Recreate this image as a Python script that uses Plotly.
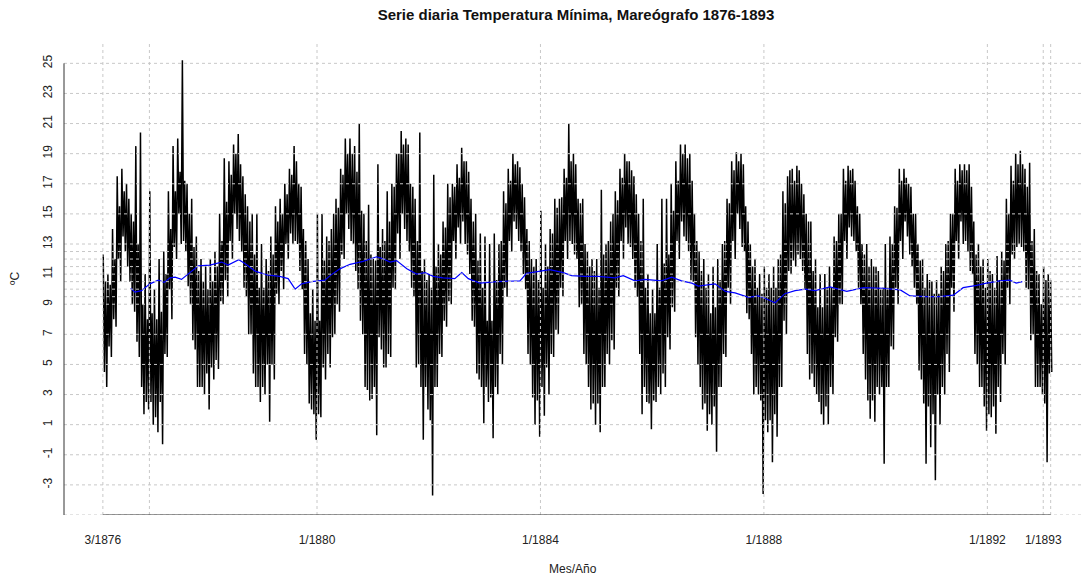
import plotly.graph_objects as go

# ---------------- data ----------------
START_YEAR = 1876
START_MONTH = 3  # series starts March 1876, ends February 1893

# monthly upper extreme (spikes) of the daily minimum temperature (ºC), Mar 1876 .. Feb 1893
tmin_high = [
    12.3, 11.0, 14.0, 17.5, 18.0, 17.0, 15.0, 19.5, 20.4, 11.0,              # 1876
    16.5, 10.0, 12.0, 12.5, 16.5, 19.5, 20.0, 25.2, 17.0, 16.0, 13.5, 12.0,  # 1877
    11.5, 12.0, 12.5, 15.0, 18.7, 18.5, 19.6, 20.3, 17.5, 15.5, 15.0, 15.0,  # 1878
    13.0, 12.0, 13.5, 15.5, 16.0, 17.0, 18.0, 19.5, 17.0, 14.0, 12.0, 10.0,  # 1879
    15.0, 15.0, 13.5, 14.0, 16.0, 18.0, 20.0, 20.0, 19.5, 21.0, 15.0, 15.6,  # 1880
    12.0, 18.3, 14.0, 16.5, 17.0, 19.0, 20.5, 20.0, 17.0, 16.0, 20.4, 12.0,  # 1881
    11.0, 17.6, 13.0, 14.5, 17.0, 17.0, 18.3, 19.4, 18.5, 16.0, 15.0, 13.7,  # 1882
    13.5, 13.0, 13.7, 13.0, 16.5, 18.0, 19.0, 18.5, 17.0, 14.0, 12.0, 12.0,  # 1883
    15.2, 13.0, 14.0, 16.0, 16.0, 18.0, 21.0, 19.0, 16.0, 16.0, 12.5, 12.0,  # 1884
    12.0, 16.6, 13.0, 14.5, 16.5, 18.0, 19.0, 18.5, 17.5, 15.0, 16.0, 11.0,  # 1885
    10.0, 13.0, 16.0, 16.0, 17.0, 18.5, 19.6, 19.6, 19.0, 15.0, 12.5, 12.0,  # 1886
    11.0, 11.5, 12.0, 13.0, 16.0, 18.5, 19.1, 19.0, 15.5, 13.0, 12.0, 11.0,  # 1887
    11.5, 11.0, 11.5, 12.0, 16.5, 17.5, 18.0, 18.2, 17.0, 15.0, 14.5, 12.0,  # 1888
    11.0, 11.0, 11.5, 13.5, 15.0, 18.0, 18.2, 18.0, 15.5, 13.0, 13.0, 12.0,  # 1889
    11.5, 10.0, 13.0, 13.5, 15.5, 18.0, 18.0, 17.0, 15.0, 13.0, 12.0, 11.0,  # 1890
    10.5, 10.6, 11.5, 13.0, 15.0, 18.0, 18.3, 18.3, 18.3, 14.5, 13.0, 12.0,  # 1891
    12.0, 11.0, 12.2, 12.5, 16.0, 18.2, 19.0, 19.2, 18.0, 18.4, 14.0, 11.0,  # 1892
    11.5, 11.0,                                                              # 1893
]

# monthly lower extreme (spikes) of the daily minimum temperature (ºC)
tmin_low = [
    3.5, 5.5, 7.5, 10.5, 12.5, 10.5, 8.5, 5.5, 1.7, 2.0,                     # 1876
    1.0, 0.5, -0.3, 5.5, 8.0, 12.0, 13.0, 12.5, 9.0, 6.0, 3.5, 3.0,          # 1877
    2.0, 4.0, 4.7, 9.0, 9.5, 12.0, 14.0, 12.5, 9.5, 7.0, 3.5, 2.5,           # 1878
    3.0, 1.2, 4.0, 9.0, 10.0, 12.0, 13.0, 13.0, 10.0, 5.0, 2.0, 0.0,         # 1879
    1.5, 4.0, 4.8, 7.0, 8.5, 12.0, 14.0, 13.0, 10.0, 7.0, 3.3, 2.7,          # 1880
    0.3, 6.0, 4.8, 5.5, 10.0, 12.0, 14.0, 12.5, 9.5, 5.0, 0.0, 2.0,          # 1881
    -3.7, 3.5, 5.5, 7.5, 9.0, 12.0, 13.0, 13.0, 11.0, 7.5, 4.0, 1.1,         # 1882
    2.5, 0.1, 3.0, 5.0, 9.5, 12.5, 14.0, 12.5, 10.0, 5.0, 1.0, 0.2,          # 1883
    1.6, 3.0, 5.5, 7.0, 9.5, 12.0, 13.0, 12.0, 9.0, 5.0, 2.0, 1.0,           # 1884
    0.5, 3.5, 5.0, 6.0, 9.5, 12.0, 13.0, 12.0, 9.5, 1.7, 2.5, 0.7,           # 1885
    2.5, 3.0, 3.5, 6.0, 8.5, 12.0, 13.5, 12.5, 10.5, 5.0, 2.0, 0.6,          # 1886
    1.0, -0.8, 3.5, 5.5, 9.0, 12.0, 14.0, 12.5, 8.0, 3.0, 3.0, -3.6,         # 1887
    0.5, -1.5, 0.2, 3.5, 7.0, 11.0, 11.5, 12.0, 10.0, 4.0, 3.5, 2.5,         # 1888
    1.0, 1.0, 3.0, 6.5, 9.0, 12.0, 13.5, 12.5, 9.0, 4.0, 1.4, 1.2,           # 1889
    3.0, -1.6, 3.5, 6.0, 9.0, 12.0, 13.5, 11.5, 9.0, 4.0, -1.6, -0.5,        # 1890
    -2.7, 1.0, 3.0, 4.5, 8.5, 12.0, 13.0, 12.5, 11.0, 5.0, 3.5, 0.6,         # 1891
    1.5, 0.4, 2.5, 5.0, 9.0, 12.0, 13.0, 12.5, 10.0, 7.0, 3.5, 3.0,          # 1892
    -1.5, 4.5,                                                               # 1893
]

# monthly top of the dense core of the band (ºC)
core_high = [
    10.5, 10.3, 12.0, 15.5, 16.5, 16.0, 14.5, 13.0, 9.0, 8.0,                # 1876
    8.4, 8.0, 8.5, 11.0, 14.0, 16.5, 17.8, 17.2, 15.0, 12.8, 11.2, 10.5,     # 1877
    10.0, 10.5, 11.5, 13.2, 15.8, 17.6, 19.0, 18.3, 16.3, 14.5, 12.3, 10.1,  # 1878
    10.1, 11.2, 12.3, 14.5, 15.0, 16.3, 17.6, 18.5, 16.8, 13.2, 8.4, 7.9,    # 1879
    7.9, 11.9, 13.2, 15.0, 15.4, 17.6, 19.0, 19.0, 17.8, 15.2, 13.2, 12.3,   # 1880
    11.9, 12.8, 13.2, 14.5, 16.8, 19.0, 19.6, 19.6, 16.8, 13.2, 11.2, 10.6,  # 1881
    10.1, 11.5, 12.3, 14.1, 16.1, 16.8, 17.4, 18.5, 17.8, 14.5, 11.9, 10.1,  # 1882
    7.9, 7.9, 10.6, 13.2, 15.7, 17.2, 18.3, 18.1, 16.1, 13.2, 11.5, 10.6,    # 1883
    10.1, 11.5, 13.7, 15.4, 16.1, 17.4, 18.5, 18.3, 15.7, 13.0, 11.5, 11.2,  # 1884
    10.1, 12.3, 13.2, 15.0, 15.9, 17.4, 18.5, 17.9, 16.3, 13.2, 10.1, 8.4,   # 1885
    8.4, 10.1, 11.7, 12.3, 15.2, 17.2, 19.0, 18.7, 17.2, 13.2, 11.2, 10.1,   # 1886
    8.4, 8.8, 10.6, 13.2, 15.7, 17.9, 18.5, 18.3, 14.5, 11.5, 10.1, 9.7,     # 1887
    10.1, 10.1, 10.1, 12.3, 15.7, 17.9, 17.2, 17.9, 16.3, 14.5, 11.2, 8.8,   # 1888
    8.8, 10.1, 10.1, 13.2, 15.0, 17.2, 17.9, 17.2, 15.0, 12.3, 11.5, 11.5,   # 1889
    11.2, 10.1, 10.1, 13.0, 15.4, 17.2, 17.4, 16.8, 15.0, 11.9, 10.1, 10.6,  # 1890
    9.7, 9.7, 11.2, 13.2, 15.0, 17.2, 17.9, 17.9, 16.8, 12.3, 11.5, 10.1,    # 1891
    11.2, 10.1, 10.6, 11.9, 15.0, 17.2, 18.3, 18.3, 16.8, 13.2, 11.2, 9.0,   # 1892
    10.6, 10.6,                                                              # 1893
]

# monthly bottom of the dense core of the band (ºC)
core_low = [
    4.5, 6.2, 8.0, 12.0, 13.5, 11.5, 9.0, 6.5, 3.5, 2.5,                     # 1876
    2.5, 1.5, 2.5, 5.7, 10.0, 12.8, 15.0, 13.2, 10.2, 6.6, 3.5, 3.5,         # 1877
    4.4, 4.8, 5.3, 9.2, 10.6, 13.2, 15.0, 13.2, 10.1, 7.0, 4.4, 3.5,         # 1878
    3.5, 5.0, 5.0, 9.7, 11.2, 13.0, 13.7, 13.2, 11.2, 5.7, 2.4, 1.7,         # 1879
    1.7, 4.8, 5.7, 6.8, 9.0, 12.3, 15.0, 13.2, 11.2, 7.9, 3.5, 2.6,          # 1880
    3.5, 6.8, 4.8, 5.7, 10.1, 13.7, 15.0, 13.2, 10.1, 4.8, 3.5, 3.5,         # 1881
    1.3, 3.5, 5.7, 7.9, 9.2, 13.2, 14.1, 14.5, 12.3, 7.9, 4.4, 3.5,          # 1882
    3.5, 2.8, 3.5, 5.7, 10.1, 13.2, 14.5, 13.2, 11.0, 5.7, 2.8, 2.6,         # 1883
    3.5, 4.8, 5.7, 7.3, 10.1, 13.2, 13.2, 12.3, 8.8, 5.7, 3.5, 2.4,          # 1884
    2.4, 3.5, 5.7, 6.6, 10.1, 13.2, 14.1, 12.8, 10.1, 5.7, 3.5, 2.4,         # 1885
    2.6, 3.5, 4.4, 6.8, 8.8, 13.2, 14.5, 13.2, 10.6, 6.8, 3.5, 2.4,          # 1886
    1.7, 2.2, 3.5, 5.7, 10.1, 13.2, 15.0, 12.8, 8.4, 5.7, 3.5, 2.6,          # 1887
    1.3, 1.3, 1.7, 3.5, 7.9, 11.2, 11.9, 12.3, 11.2, 5.7, 4.4, 3.0,          # 1888
    1.7, 2.2, 3.5, 6.8, 9.0, 13.2, 14.1, 13.2, 10.1, 5.7, 2.6, 2.6,          # 1889
    3.5, 3.5, 3.5, 6.2, 10.1, 13.2, 14.5, 12.3, 10.1, 4.6, 2.4, 2.2,         # 1890
    1.7, 3.0, 3.5, 5.7, 10.1, 13.2, 14.5, 13.2, 11.2, 5.7, 3.5, 2.2,         # 1891
    1.7, 2.2, 3.5, 5.7, 10.1, 12.3, 12.8, 12.8, 10.1, 6.6, 3.5, 3.5,         # 1892
    2.4, 4.4,                                                                # 1893
]

# 365-day moving average: time in months since Jan 1876, value in ºC
ma_month = [
    7.97, 8.9, 10.3, 12.1, 13.9, 15.2, 16.4, 17.5, 18.9, 20.7, 22.5, 25.0,
    27.5, 28.9, 31.2, 32.5, 34.7, 37.2, 40.0, 41.8, 43.3, 44.7, 46.8, 49.7,
    50.8, 52.9, 55.1, 57.9, 60.8, 61.9, 63.7, 65.1, 67.3, 69.4, 71.2, 73.0,
    75.1, 77.6, 79.1, 80.5, 83.0, 86.6, 89.5, 91.6, 93.0, 95.9, 98.0, 100.9,
    102.7, 105.6, 108.4, 112.0, 113.8, 116.3, 118.5, 122.0, 124.2, 126.3,
    128.5, 129.9, 133.5, 135.7, 137.8, 140.7, 142.8, 144.2, 146.4, 148.5,
    150.7, 152.9, 155.0, 158.2, 161.8, 165.4, 169.7, 173.3, 175.4, 179.0,
    181.8, 184.7, 186.8, 189.7, 191.8, 194.7, 196.8, 198.2, 199.5,
]
ma_value = [
    10.06, 9.8, 9.9, 10.35, 10.6, 10.45, 10.75, 10.8, 10.65, 11.1, 11.55, 11.6,
    11.8, 11.6, 11.95, 11.7, 11.2, 10.95, 10.85, 10.7, 10.0, 10.35, 10.5, 10.6,
    10.9, 11.35, 11.65, 11.85, 12.15, 12.05, 11.8, 11.9, 11.35, 11.0, 11.1, 10.85,
    10.75, 10.7, 11.1, 10.7, 10.4, 10.5, 10.5, 10.55, 11.05, 11.2, 11.3, 11.1,
    10.9, 10.85, 10.85, 10.75, 10.9, 10.55, 10.65, 10.55, 10.8, 10.55,
    10.4, 10.2, 10.35, 9.85, 9.75, 9.45, 9.55, 9.4, 9.1, 9.7,
    9.9, 10.0, 9.9, 10.15, 9.85, 10.1, 10.05, 9.95, 9.55, 9.5,
    9.5, 9.6, 10.1, 10.25, 10.4, 10.55, 10.6, 10.4, 10.5,
]

# axis ticks
x_tick_dates = [(1876, 3), (1877, 1), (1880, 1), (1884, 1), (1888, 1), (1892, 1), (1893, 1), (1893, 2.6)]
x_tick_text = ["3/1876", "", "1/1880", "1/1884", "1/1888", "1/1892", "1/1893", ""]
y_major = [-5, -3, -1, 1, 3, 5, 7, 9, 11, 13, 15, 17, 19, 21, 23, 25]
y_minor = [9.5, 10, 10.5, 11.5, 12, 12.5]


def dec_year(y, m):
    return y + (m - 1) / 12.0


# ---------------- build traces ----------------
xs, ys = [], []
for i, (hi, clo, chi, lo) in enumerate(zip(tmin_high, core_low, core_high, tmin_low)):
    m = START_MONTH - 1 + i
    for frac, val in zip((0.08, 0.33, 0.58, 0.83), (hi, clo, chi, lo)):
        xs.append(START_YEAR + (m + frac) / 12.0)
        ys.append(val)

ma_x = [START_YEAR + k / 12.0 for k in ma_month]

fig = go.Figure()
fig.add_trace(go.Scatter(x=xs, y=ys, mode="lines",
                         line=dict(color="black", width=1.5), hoverinfo="skip"))
fig.add_trace(go.Scatter(x=ma_x, y=ma_value, mode="lines",
                         line=dict(color="#0000ff", width=1.2), hoverinfo="skip"))

x_tickvals = [dec_year(y, m) for y, m in x_tick_dates]
y_tickvals = sorted(set(y_major + y_minor))
y_ticktext = [("" if (v not in y_major or v == -5) else str(v)) for v in y_tickvals]

GRID = "#c8c8c8"
shapes = []
for v in x_tickvals:
    shapes.append(dict(type="line", xref="x", yref="paper", x0=v, x1=v, y0=0, y1=1,
                       line=dict(color=GRID, width=1, dash="3px,3px"), layer="above"))
for v in y_tickvals:
    shapes.append(dict(type="line", xref="paper", yref="y", x0=0, x1=1, y0=v, y1=v,
                       line=dict(color=GRID, width=1, dash="3px,3px"), layer="above"))
# axis lines (R style: only over the tick range)
shapes.append(dict(type="line", xref="paper", yref="y", x0=0, x1=0, y0=y_major[0], y1=y_major[-1],
                   line=dict(color="#333333", width=1), layer="above"))
shapes.append(dict(type="line", xref="x", yref="y", x0=x_tickvals[0], x1=x_tickvals[-1],
                   y0=y_major[0], y1=y_major[0],
                   line=dict(color="#333333", width=1), layer="above"))

FONT = "Liberation Sans, Arial, sans-serif"
fig.update_layout(
    width=1081, height=578,
    margin=dict(l=64, r=0, t=43, b=63),
    plot_bgcolor="white", paper_bgcolor="white",
    showlegend=False,
    font=dict(family=FONT, size=12, color="#222222"),
    shapes=shapes,
    title=dict(text="<b>Serie diaria Temperatura Mínima, Mareógrafo 1876-1893</b>",
               x=0.5034, xref="paper", xanchor="center",
               y=1 - 15 / 578, yref="container", yanchor="middle",
               font=dict(family=FONT, size=15, color="#111111")),
    xaxis=dict(range=[1875.471, 1893.676], showgrid=False, zeroline=False,
               tickmode="array", tickvals=x_tickvals, ticktext=x_tick_text,
               ticks="outside", ticklen=14, tickcolor="rgba(0,0,0,0)",
               showline=False, tickfont=dict(size=12)),
    yaxis=dict(range=[-5, 26.35], showgrid=False, zeroline=False,
               tickmode="array", tickvals=y_tickvals, ticktext=y_ticktext,
               tickangle=-90, ticks="outside", ticklen=6, tickcolor="rgba(0,0,0,0)",
               showline=False, tickfont=dict(size=12)),
    annotations=[
        dict(text="Mes/Año", xref="paper", yref="paper", x=0.5, y=-(569 - 515) / 472,
             xanchor="center", yanchor="middle", showarrow=False, font=dict(size=12)),
        dict(text="ºC", xref="paper", yref="paper", x=-(64 - 15) / 1017, y=0.5,
             xanchor="center", yanchor="middle", textangle=-90, showarrow=False,
             font=dict(size=12)),
    ],
)

fig.write_html("out.html")
